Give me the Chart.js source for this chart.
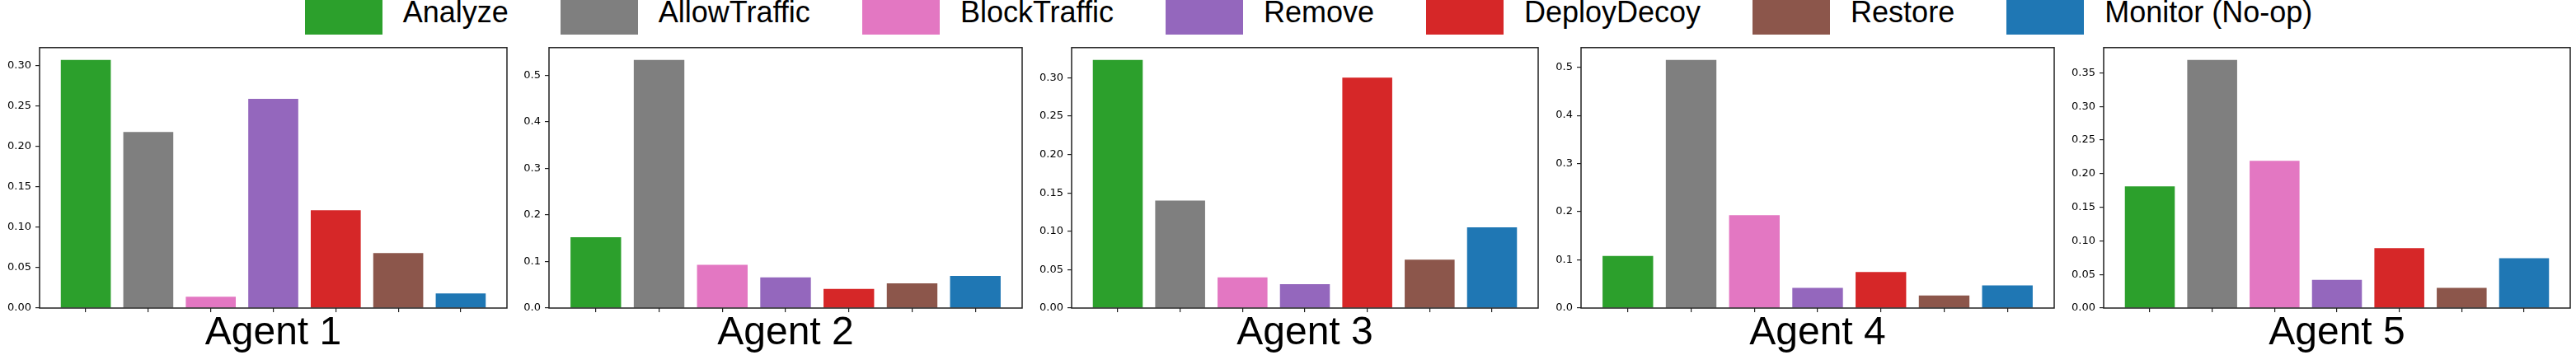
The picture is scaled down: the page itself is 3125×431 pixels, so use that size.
<!DOCTYPE html>
<html>
<head>
<meta charset="utf-8">
<script src="https://cdn.jsdelivr.net/npm/chart.js@4.4.1/dist/chart.umd.min.js"></script>
<style>
  body { margin: 0; background: #fff; width: 3125px; height: 431px; overflow: hidden; position: relative;
         font-family: "Liberation Sans", Arial, sans-serif; }
  #legend { position: absolute; top: 0; left: 0; width: 3175px; height: 42px; display: flex;
            justify-content: center; gap: 63px; z-index: 2; }
  .item { display: flex; align-items: flex-start; }
  .swatch { width: 94px; height: 42px; margin-right: 25px; }
  .label { font-size: 36px; line-height: 36px; color: #000; position: relative; top: -3px; white-space: nowrap; }
  canvas { position: absolute; top: 45px; }
</style>
</head>
<body>
<div id="legend"></div>
<script>
// ---------------- DATA ----------------
const actions = ["Analyze", "AllowTraffic", "BlockTraffic", "Remove", "DeployDecoy", "Restore", "Monitor (No-op)"];
const colors = ["#2ca02c", "#7f7f7f", "#e377c2", "#9467bd", "#d62728", "#8c564b", "#1f77b4"];
const agents = ["Agent 1", "Agent 2", "Agent 3", "Agent 4", "Agent 5"];

const agent1 = [0.307, 0.218, 0.014, 0.259, 0.121, 0.068, 0.018];
const agent2 = [0.152, 0.533, 0.093, 0.066, 0.041, 0.053, 0.069];
const agent3 = [0.323, 0.140, 0.040, 0.031, 0.300, 0.063, 0.105];
const agent4 = [0.108, 0.515, 0.193, 0.042, 0.075, 0.026, 0.047];
const agent5 = [0.181, 0.369, 0.219, 0.042, 0.089, 0.030, 0.074];

const yTicks1 = ["0.00", "0.05", "0.10", "0.15", "0.20", "0.25", "0.30"];
const yTicks2 = ["0.0", "0.1", "0.2", "0.3", "0.4", "0.5"];
const yTicks3 = ["0.00", "0.05", "0.10", "0.15", "0.20", "0.25", "0.30"];
const yTicks4 = ["0.0", "0.1", "0.2", "0.3", "0.4", "0.5"];
const yTicks5 = ["0.00", "0.05", "0.10", "0.15", "0.20", "0.25", "0.30", "0.35"];

const series = [agent1, agent2, agent3, agent4, agent5];
const yTicks = [yTicks1, yTicks2, yTicks3, yTicks4, yTicks5];

// plot area left/right edges in page pixels
const plotEdges = [[48, 615], [666, 1240], [1300, 1866], [1918, 2492], [2552, 3118]];
const Y_AXIS_W = 48;
const X_AXIS_H = 57;
const PAD = 4;

// ---------------- LEGEND ----------------
const legend = document.getElementById("legend");
actions.forEach((name, i) => {
  const item = document.createElement("div");
  item.className = "item";
  item.innerHTML = `<div class="swatch" style="background:${colors[i]}"></div><div class="label">${name}</div>`;
  legend.appendChild(item);
});

// ---------------- CHARTS ----------------
const frame = {
  id: "frame",
  afterDraw(chart) {
    const { ctx, chartArea: a } = chart;
    ctx.save();
    ctx.strokeStyle = "#222";
    ctx.lineWidth = 1.5;
    ctx.strokeRect(a.left, a.top, a.right - a.left, a.bottom - a.top);
    ctx.restore();
  }
};

const tickGrid = { drawOnChartArea: false, drawTicks: true, tickLength: 5, color: "#222", lineWidth: 1.2, offset: false };

series.forEach((values, k) => {
  const [l, r] = plotEdges[k];
  const canvas = document.createElement("canvas");
  canvas.width = (r - l) + Y_AXIS_W + PAD;
  canvas.height = 431 - 45;
  canvas.style.left = (l - Y_AXIS_W) + "px";
  document.body.appendChild(canvas);

  const ticks = yTicks[k];

  new Chart(canvas, {
    type: "bar",
    data: {
      datasets: [{
        data: values.map((v, i) => ({ x: i, y: v })),
        backgroundColor: colors,
        borderWidth: 0,
        barPercentage: 0.8,
        categoryPercentage: 1
      }]
    },
    options: {
      responsive: false,
      animation: false,
      layout: { padding: { top: PAD, right: PAD, left: 0, bottom: 0 } },
      plugins: { legend: { display: false }, tooltip: { enabled: false } },
      scales: {
        x: {
          type: "linear",
          min: -0.74,
          max: 6.74,
          offset: false,
          afterBuildTicks: s => { s.ticks = actions.map((_, i) => ({ value: i })); },
          afterFit: s => { s.height = X_AXIS_H; },
          ticks: { callback: () => "" },
          grid: tickGrid,
          border: { display: false },
          title: {
            display: true,
            text: agents[k],
            color: "#000",
            font: { family: "Liberation Sans, Arial, sans-serif", size: 48, lineHeight: 1.1 },
            padding: { top: 0, bottom: 0 }
          }
        },
        y: {
          min: 0,
          max: Math.max(...values) * 1.05,
          afterBuildTicks: s => { s.ticks = ticks.map(t => ({ value: parseFloat(t) })); },
          afterFit: s => { s.width = Y_AXIS_W; },
          ticks: {
            callback: (v, i) => ticks[i],
            color: "#000",
            font: { family: "DejaVu Sans", size: 13 },
            padding: 5
          },
          grid: tickGrid,
          border: { display: false }
        }
      }
    },
    plugins: [frame]
  });
});
</script>
</body>
</html>
